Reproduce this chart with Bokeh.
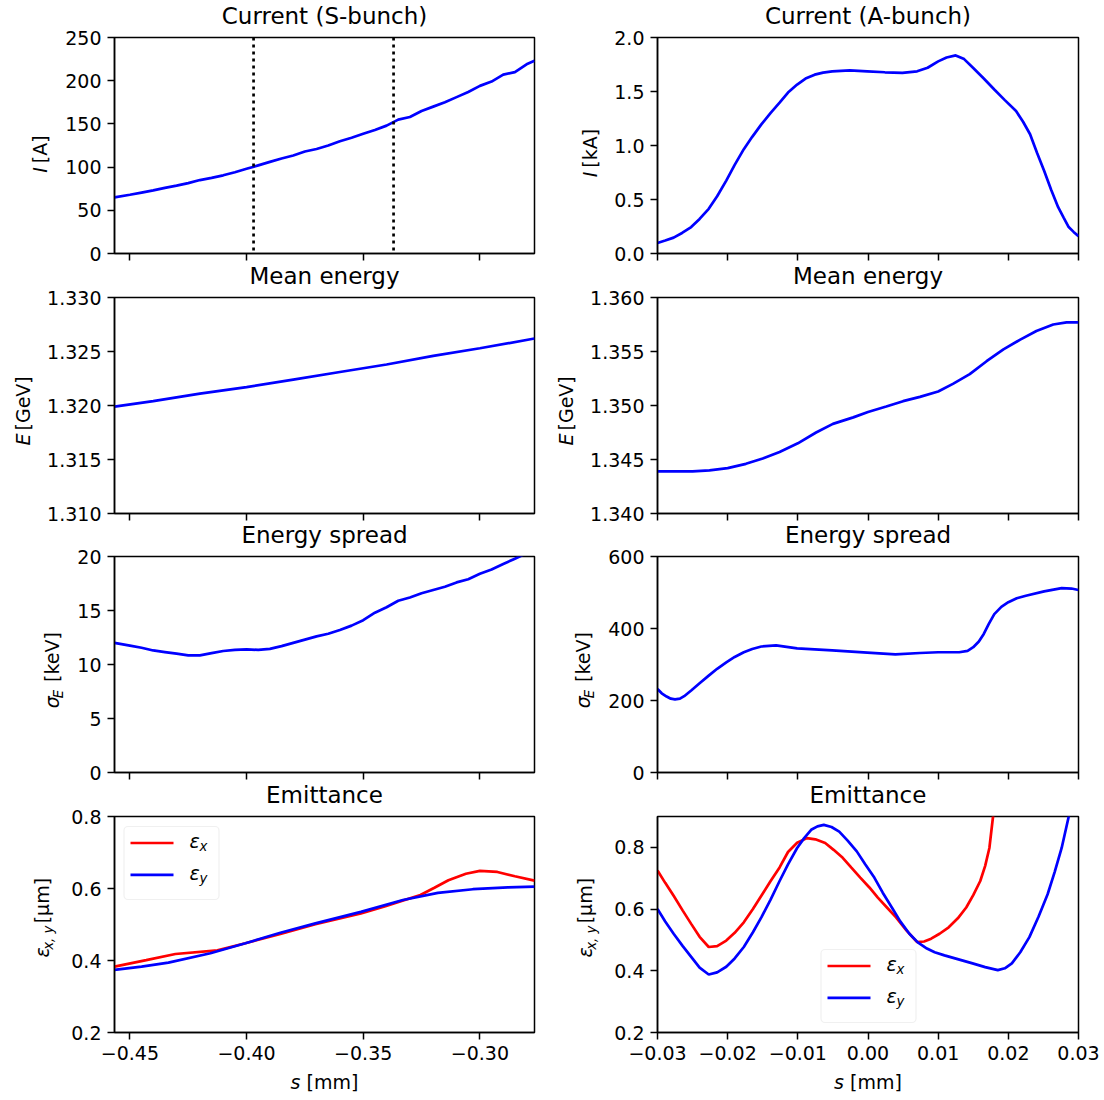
import math
from bokeh.plotting import figure
from bokeh.layouts import column, row
from bokeh.models import Range1d, FixedTicker, CustomJSTickFormatter, Span, Label, BoxAnnotation
from bokeh.embed import file_html
from bokeh.resources import INLINE

# ---------------- data ----------------
# S-bunch (left column), s in mm
s_S = [-0.4566, -0.450, -0.445, -0.440, -0.435, -0.430, -0.425, -0.420, -0.415, -0.410,
       -0.405, -0.400, -0.395, -0.390, -0.385, -0.380, -0.375, -0.370, -0.365, -0.360,
       -0.355, -0.350, -0.345, -0.340, -0.335, -0.330, -0.325, -0.320, -0.315, -0.310,
       -0.305, -0.300, -0.295, -0.290, -0.285, -0.280, -0.2766]
I_S = [65, 68, 70.5, 73, 76, 78.5, 81.5, 85, 87.5, 90.5,
       94, 98, 102, 106, 110, 113.5, 118, 121, 125, 130,
       134, 138.5, 143, 148, 155, 158, 165, 170, 175, 181,
       187, 194, 199, 207, 210, 219, 223]
sigE_S = [12.0, 11.75, 11.55, 11.3, 11.15, 11.0, 10.85, 10.85, 11.05, 11.25,
          11.35, 11.4, 11.35, 11.45, 11.7, 12.0, 12.3, 12.6, 12.85, 13.2,
          13.6, 14.1, 14.8, 15.3, 15.9, 16.2, 16.6, 16.9, 17.2, 17.6,
          17.9, 18.4, 18.8, 19.3, 19.8, 20.3, 20.7]
sE_S = [-0.4566, -0.44, -0.42, -0.40, -0.38, -0.36, -0.34, -0.32, -0.30, -0.2766]
E_S = [1.3199, 1.3204, 1.3211, 1.3217, 1.3224, 1.3231, 1.3238, 1.3246, 1.3253, 1.3262]
sx_S = [-0.4566, -0.4430, -0.4305, -0.4125, -0.4005, -0.3855, -0.3705, -0.351, -0.3405,
        -0.3255, -0.3195, -0.3135, -0.306, -0.300, -0.2925, -0.285, -0.2766]
ex_S = [0.383, 0.401, 0.418, 0.428, 0.448, 0.474, 0.501, 0.531, 0.551,
        0.582, 0.602, 0.623, 0.641, 0.649, 0.646, 0.634, 0.622]
sy_S = [-0.4566, -0.4450, -0.4335, -0.4155, -0.4005, -0.3855, -0.3705, -0.351, -0.333,
        -0.318, -0.303, -0.288, -0.2766]
ey_S = [0.374, 0.383, 0.394, 0.420, 0.448, 0.477, 0.503, 0.535, 0.568,
        0.588, 0.598, 0.603, 0.605]
window_S = [-0.397, -0.337]

# A-bunch (right column)
sI_A = [-0.03, -0.0289, -0.0277, -0.0265, -0.0252, -0.0240, -0.0227, -0.0215, -0.0202, -0.0190,
        -0.0177, -0.0165, -0.0152, -0.0139, -0.0126, -0.0114, -0.0101, -0.0089, -0.0076, -0.0064,
        -0.0051, -0.0026, -0.0001, 0.0024, 0.0049, 0.0070, 0.0085, 0.0100, 0.0112, 0.0125,
        0.0137, 0.0150, 0.0165, 0.0180, 0.0195, 0.0211, 0.0221, 0.0231, 0.0241, 0.0251,
        0.0261, 0.0271, 0.0279, 0.0286, 0.0293, 0.03]
I_A = [0.098, 0.12, 0.147, 0.19, 0.245, 0.32, 0.414, 0.53, 0.675, 0.82,
       0.966, 1.08, 1.196, 1.30, 1.396, 1.49, 1.564, 1.62, 1.656, 1.675,
       1.687, 1.696, 1.687, 1.678, 1.672, 1.687, 1.72, 1.779, 1.815, 1.834,
       1.80, 1.718, 1.62, 1.518, 1.42, 1.319, 1.22, 1.104, 0.93, 0.767,
       0.59, 0.429, 0.33, 0.245, 0.20, 0.160]
sE_A = [-0.03, -0.025, -0.0226, -0.02, -0.0174, -0.015, -0.0126, -0.01, -0.0074, -0.005,
        -0.0021, 0.0, 0.0026, 0.005, 0.0074, 0.01, 0.0121, 0.0145, 0.0169, 0.0193,
        0.0217, 0.024, 0.0264, 0.0283, 0.03]
E_A = [1.3439, 1.3439, 1.3440, 1.3442, 1.3446, 1.3451, 1.3457, 1.3465, 1.3475, 1.3483,
       1.3489, 1.3494, 1.3499, 1.3504, 1.3508, 1.3513, 1.3520, 1.3529, 1.3541, 1.3552,
       1.3561, 1.3569, 1.3575, 1.3577, 1.3577]
sS_A = [-0.03, -0.0294, -0.0287, -0.0281, -0.0275, -0.0268, -0.0262, -0.0252, -0.0240, -0.0227,
        -0.0215, -0.0202, -0.0190, -0.0177, -0.0165, -0.0152, -0.0131, -0.0101, -0.0051, -0.0001,
        0.0039, 0.0074, 0.0100, 0.0130, 0.0142, 0.0150, 0.0158, 0.0165, 0.0172, 0.0180,
        0.0190, 0.0200, 0.0212, 0.0225, 0.0251, 0.0276, 0.0290, 0.03]
sigE_A = [232, 220, 211, 205, 203, 205, 212, 228, 248, 269,
          288, 306, 321, 334, 343, 350, 353, 345, 339, 333,
          328, 332, 334, 334, 338, 348, 364, 385, 412, 440,
          460, 473, 484, 491, 503, 512, 511, 507]
sx_A = [-0.03, -0.0289, -0.0277, -0.0264, -0.0252, -0.0240, -0.0227, -0.0215, -0.0202, -0.0190,
        -0.0177, -0.0164, -0.0152, -0.0139, -0.0126, -0.0114, -0.0101, -0.0087, -0.0075, -0.0061,
        -0.0049, -0.0036, -0.0024, -0.0011, 0.0002, 0.0014, 0.0027, 0.0040, 0.0055, 0.0070,
        0.0080, 0.0090, 0.0102, 0.0115, 0.0128, 0.0140, 0.0150, 0.0160, 0.0167, 0.0173,
        0.0178, 0.0183]
ex_A = [0.725, 0.685, 0.643, 0.595, 0.552, 0.51, 0.477, 0.48, 0.498, 0.523,
        0.557, 0.60, 0.643, 0.69, 0.735, 0.785, 0.815, 0.830, 0.826, 0.814,
        0.792, 0.766, 0.735, 0.702, 0.67, 0.637, 0.605, 0.573, 0.53, 0.493,
        0.495, 0.504, 0.52, 0.541, 0.57, 0.605, 0.645, 0.691, 0.74, 0.798,
        0.896, 0.98]
sy_A = [-0.03, -0.0289, -0.0277, -0.0264, -0.0252, -0.024, -0.0227, -0.0215, -0.0202, -0.019,
        -0.0177, -0.0164, -0.0152, -0.0139, -0.0126, -0.0114, -0.0101, -0.0091, -0.0081, -0.0072,
        -0.0063, -0.0052, -0.0041, -0.0029, -0.0016, -0.0004, 0.0009, 0.0021, 0.0034, 0.0046,
        0.0059, 0.0071, 0.0084, 0.0095, 0.0109, 0.0129, 0.0149, 0.0167, 0.0185, 0.0195,
        0.0205, 0.0217, 0.0230, 0.0243, 0.0256, 0.0266, 0.0276, 0.0286, 0.0292]
ey_A = [0.600, 0.56, 0.520, 0.48, 0.445, 0.41, 0.388, 0.395, 0.413, 0.44,
        0.477, 0.525, 0.573, 0.63, 0.691, 0.745, 0.798, 0.83, 0.857, 0.868,
        0.873, 0.866, 0.851, 0.822, 0.787, 0.745, 0.702, 0.653, 0.605, 0.56,
        0.520, 0.492, 0.472, 0.46, 0.450, 0.437, 0.424, 0.412, 0.402, 0.408,
        0.424, 0.46, 0.509, 0.575, 0.648, 0.72, 0.798, 0.899, 0.96]

titles_S = ["Current (S-bunch)", "Mean energy", "Energy spread", "Emittance"]
titles_A = ["Current (A-bunch)", "Mean energy", "Energy spread", "Emittance"]
xticks_S = [-0.45, -0.40, -0.35, -0.30]
xticks_A = [-0.03, -0.02, -0.01, 0.0, 0.01, 0.02, 0.03]
yticks_S = [[0, 50, 100, 150, 200, 250], [1.310, 1.315, 1.320, 1.325, 1.330],
            [0, 5, 10, 15, 20], [0.2, 0.4, 0.6, 0.8]]
yticks_A = [[0.0, 0.5, 1.0, 1.5, 2.0], [1.340, 1.345, 1.350, 1.355, 1.360],
            [0, 200, 400, 600], [0.2, 0.4, 0.6, 0.8]]
ydec_S = [0, 3, 0, 1]
ydec_A = [1, 3, 0, 1]
yr_S = [(0, 250), (1.310, 1.330), (0, 20), (0.2, 0.8)]
yr_A = [(0, 2.0), (1.340, 1.360), (0, 600), (0.2, 0.9)]
xr_S = (-0.4566, -0.2766)
xr_A = (-0.03, 0.03)
xlabel_text = [("s", True, False), (" [mm]", False, False)]
ylabels_S = [
    [("I", True, False), (" [A]", False, False)],
    [("E", True, False), (" [GeV]", False, False)],
    [("σ", True, False), ("E", True, True), (" [keV]", False, False)],
    [("ε", True, False), ("x, y", True, True), (" [µm]", False, False)],
]
ylabels_A = [
    [("I", True, False), (" [kA]", False, False)],
    [("E", True, False), (" [GeV]", False, False)],
    [("σ", True, False), ("E", True, True), (" [keV]", False, False)],
    [("ε", True, False), ("x, y", True, True), (" [µm]", False, False)],
]

# ---------------- style / layout ----------------
FONT = "DejaVu Sans"
BLUE = "#0000ff"
RED = "#ff0000"
TOTAL_W = 1100
FW = [420, 421]
FH = 216
BR = [16, 22]
TICK = 19
TITLE = 23
TITLE_BASE = 13          # title baseline above the frame, px
LW = 2.7
SUB = 0.7
SUB_GAP = 5              # extra room after a subscript, px
BASE_FIX = 0.37          # alphabetic-baseline correction (fraction of font size)
LAB_L = [60, 44, 68, 62]
LAB_R = [56, 32, 50, 54]
BL_S = [114 - w for w in LAB_L]
BL_A = [107 - w for w in LAB_R]
TOP = [37, 34, 33, 34]
BOT = [10, 10, 10, 37]
XLAB_H = 30
YLAB_X = [[47, 47], [30, 23], [59, 40], [49, 42]]
XLAB_BASE = 10.5
TITLE_CX = [324, 867.5]

W = {' ': 0.318, '[': 0.390, ']': 0.390, 'A': 0.684, 'k': 0.579, 'E': 0.632, 'G': 0.775,
     'e': 0.615, 'V': 0.684, 'I': 0.295, 'µ': 0.636, 'm': 0.974, 's': 0.521, 'x': 0.592,
     'y': 0.592, ',': 0.318, 'σ': 0.634, 'ε': 0.541}


def tw(t, size):
    return sum(W.get(c, 0.6) for c in t) * size


def canvas(w, h):
    p = figure(width=w, height=h, x_range=Range1d(0, w), y_range=Range1d(0, h),
               min_border=0, x_axis_location=None, y_axis_location=None,
               output_backend="svg", toolbar_location=None)
    p.grid.visible = False
    p.outline_line_color = None
    return p


def mklabel(x, y, text, size, italic=False, angle=0.0, align="left", xo=0, yo=0):
    return Label(x=x, y=y, x_offset=xo, y_offset=yo, text=text, angle=angle,
                 text_font=FONT, text_font_size="%.1fpx" % size,
                 text_font_style="italic" if italic else "normal",
                 text_align=align, text_baseline="alphabetic", text_color="black")


def lab(p, *args, **kw):
    p.add_layout(mklabel(*args, **kw))


def make(col, r, xr, yr, xticks, yticks, ydec, title):
    bl = BL_S[r] if col == 0 else BL_A[r]
    p = figure(frame_width=FW[col], frame_height=FH,
               x_range=Range1d(*xr), y_range=Range1d(*yr),
               min_border_left=bl, min_border_right=BR[col],
               min_border_top=TOP[r], min_border_bottom=BOT[r],
               output_backend="svg", toolbar_location=None)
    # title: a label in the panel above the frame (not clipped to the frame)
    p.add_layout(mklabel((xr[0] + xr[1]) / 2, yr[1], title, TITLE, align="center",
                         yo=TITLE_BASE + BASE_FIX * TITLE), "above")
    p.grid.visible = False
    p.outline_line_color = "black"
    p.outline_line_width = 1.5
    p.outline_line_alpha = 1.0
    for ax, ticks, dec in ((p.xaxis, xticks, 2), (p.yaxis, yticks, ydec)):
        ax.ticker = FixedTicker(ticks=ticks)
        ax.formatter = CustomJSTickFormatter(
            code="return tick.toFixed(%d).replace('-', '\\u2212');" % dec)
        ax.major_tick_out = 7
        ax.major_tick_in = 0
        ax.minor_tick_out = 0
        ax.minor_tick_in = 0
        ax.major_tick_line_width = 1.5
        ax.major_tick_line_color = "black"
        ax.axis_line_width = 1.5
        ax.axis_line_color = "black"
        ax.major_label_text_font = FONT
        ax.major_label_text_font_size = "%dpx" % TICK
        ax.major_label_text_color = "black"
        ax.major_label_standoff = 6
    if r < 3:
        p.xaxis.formatter = CustomJSTickFormatter(code="return '';")
        p.xaxis.major_label_standoff = 0
    return p


def place_segments(p, segs, start, fixed, rotated):
    """Lay out text segments along a line; leading spaces become gaps."""
    pos = start
    for t, it, sub in segs:
        size = TICK * (SUB if sub else 1)
        if t.startswith(" "):
            pos += tw(" ", size)
            t = t.lstrip(" ")
        shift = 4 if sub else 0
        fix = BASE_FIX * size
        if rotated:
            lab(p, fixed + shift - fix, pos, t, size, italic=it, angle=math.pi / 2)
        else:
            lab(p, pos, fixed - shift + fix, t, size, italic=it)
        pos += tw(t, size) + (SUB_GAP if sub else 0)


def seg_width(segs):
    return sum(tw(t, TICK * (SUB if sub else 1)) + (SUB_GAP if sub else 0)
               for t, it, sub in segs)


def ylabel_strip(w, r, segs, bx):
    h = TOP[r] + FH + BOT[r]
    c = canvas(w, h)
    center = BOT[r] + FH / 2
    place_segments(c, segs, center - seg_width(segs) / 2, bx, True)
    return c


def fx(p, col, px):
    xr = p.x_range
    return xr.start + px / FW[col] * (xr.end - xr.start)


def fy(p, py):
    yr = p.y_range
    return yr.end - py / FH * (yr.end - yr.start)


def legend(p, col, bx, by):
    bw, bh = 95, 73
    p.add_layout(BoxAnnotation(left=fx(p, col, bx), right=fx(p, col, bx + bw),
                               top=fy(p, by), bottom=fy(p, by + bh),
                               fill_color="white", fill_alpha=0.8,
                               line_color="#cccccc", line_width=1.2,
                               border_radius=4, level="underlay"))
    for k, (color, sub) in enumerate(((RED, "x"), (BLUE, "y"))):
        ly = by + 16.5 + k * 31.8
        p.line([fx(p, col, bx + 6.5), fx(p, col, bx + 49.5)], [fy(p, ly), fy(p, ly)],
               line_color=color, line_width=LW)
        base = fy(p, ly + 4.8)
        xe = fx(p, col, bx + 65.5)
        lab(p, xe, base, "ε", TICK, italic=True, yo=BASE_FIX * TICK)
        lab(p, xe, base, sub, TICK * SUB, italic=True, xo=10,
            yo=-4 + BASE_FIX * TICK * SUB)


blocks = []
panels = []
for r in range(4):
    pS = make(0, r, xr_S, yr_S[r], xticks_S, yticks_S[r], ydec_S[r], titles_S[r])
    pA = make(1, r, xr_A, yr_A[r], xticks_A, yticks_A[r], ydec_A[r], titles_A[r])
    lL = ylabel_strip(LAB_L[r], r, ylabels_S[r], YLAB_X[r][0])
    lR = ylabel_strip(LAB_R[r], r, ylabels_A[r], YLAB_X[r][1])
    blocks.append(row([lL, pS, lR, pA], spacing=0))
    panels.append((pS, pA))

# x-axis label strip
xs = canvas(TOTAL_W, XLAB_H)
for cx in TITLE_CX:
    place_segments(xs, xlabel_text, cx - seg_width(xlabel_text) / 2, XLAB_BASE, False)
blocks.append(xs)

# row 1: current
pS, pA = panels[0]
pS.line(s_S, I_S, line_color=BLUE, line_width=LW)
for loc in window_S:
    pS.add_layout(Span(location=loc, dimension="height", line_color="black",
                       line_dash="3 4", line_width=LW))
pA.line(sI_A, I_A, line_color=BLUE, line_width=LW)

# row 2: mean energy
pS, pA = panels[1]
pS.line(sE_S, E_S, line_color=BLUE, line_width=LW)
pA.line(sE_A, E_A, line_color=BLUE, line_width=LW)

# row 3: energy spread
pS, pA = panels[2]
pS.line(s_S, sigE_S, line_color=BLUE, line_width=LW)
pA.line(sS_A, sigE_A, line_color=BLUE, line_width=LW)

# row 4: emittance
pS, pA = panels[3]
pS.line(sx_S, ex_S, line_color=RED, line_width=LW)
pS.line(sy_S, ey_S, line_color=BLUE, line_width=LW)
pA.line(sx_A, ex_A, line_color=RED, line_width=LW)
pA.line(sy_A, ey_A, line_color=BLUE, line_width=LW)
legend(pS, 0, 9.5, 10)
legend(pA, 1, 163.5, 133)

layout = column(blocks, spacing=0)
open("out.html", "w").write(file_html(layout, INLINE))
